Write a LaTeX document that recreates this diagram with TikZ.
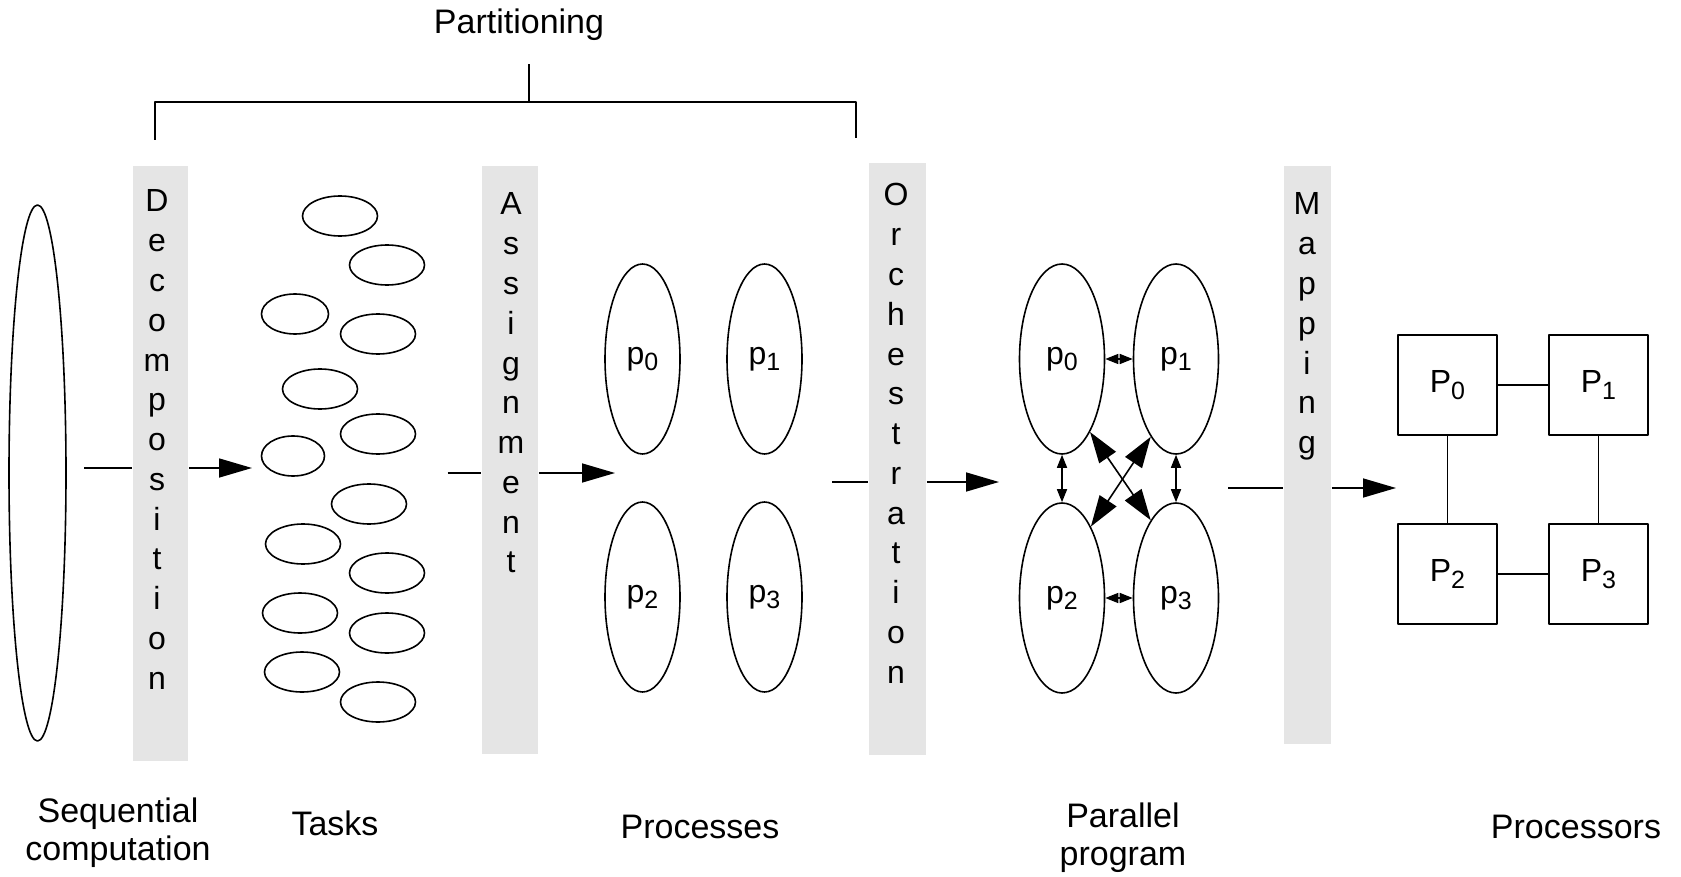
\documentclass[tikz,border=0pt]{standalone}
\usepackage{fontspec}
\setmainfont{Liberation Sans}
\usetikzlibrary{shapes.geometric,arrows.meta}
\definecolor{bandgray}{RGB}{229,229,229}
\newcommand\lowsub[1]{\raisebox{-3.3pt}{\fontsize{12.5}{14}\selectfont #1}}

\begin{document}
\begin{tikzpicture}[x=0.5pt, y=-0.5pt, line width=0.8pt, line join=round,
	font=\fontsize{16}{19}\selectfont,
	band/.style={fill=bandgray, inner sep=0pt},
	letter/.style={anchor=base, inner sep=0pt, font=\fontsize{16}{18}\selectfont},
	task/.style={draw, ellipse, inner sep=0pt, minimum height=20pt},
	proc/.style={draw, ellipse, inner sep=0pt, minimum width=37.5pt, minimum height=95pt},
	cpu/.style={draw, rectangle, inner sep=0pt, minimum width=49.5pt, minimum height=50pt},
	caption/.style={align=center, anchor=base, font=\fontsize{17}{19}\selectfont},
	bigarrow/.style={-{Triangle[length=16.5pt, width=9.5pt]}},
	both/.style={{Triangle[length=6.5pt, width=5pt]}-{Triangle[length=6.5pt, width=5pt]}},
	bothbig/.style={{Triangle[length=15.5pt, width=10pt]}-{Triangle[length=15.5pt, width=10pt]}}]
	\useasboundingbox (0,0) rectangle (1681,877);
	% partitioning bracket
	\node[anchor=base, font=\fontsize{17}{20}\selectfont] (part) at (519,34) {Partitioning};
	\draw (155,140) |- (856,102) -- (856,138);
	\draw (529,102) -- (529,64);
	% bands
	\node[band, minimum width=27.5pt, minimum height=297.5pt] (dec) at (160.5,463.5) {};
	\node[band, minimum width=28pt, minimum height=294pt] (asg) at (510,460) {};
	\node[band, minimum width=28.5pt, minimum height=296pt] (orc) at (897.5,459) {};
	\node[band, minimum width=23.5pt, minimum height=289pt] (map) at (1307.5,455) {};
	\foreach \ch [count=\i from 0] in {D,e,c,o,m,p,o,s,i,t,i,o,n}
		\node[letter] (dec-\i) at (157,{212+39.75*\i}) {\ch};
	\foreach \ch [count=\i from 0] in {A,s,s,i,g,n,m,e,n,t}
		\node[letter] (asg-\i) at (511,{215+39.75*\i}) {\ch};
	\foreach \ch [count=\i from 0] in {O,r,c,h,e,s,t,r,a,t,i,o,n}
		\node[letter] (orc-\i) at (896,{206+39.75*\i}) {\ch};
	\foreach \ch [count=\i from 0] in {M,a,p,p,i,n,g}
		\node[letter] (map-\i) at (1307,{215+39.75*\i}) {\ch};
	% sequential computation
	\node[draw, ellipse, inner sep=0pt, minimum width=28.5pt, minimum height=268pt] (seq) at (37.5,473) {};
	% tasks
	\foreach \cx/\cy/\w [count=\i] in {340/216/75, 387/265/75, 295/314/67, 378/334/75, 320/389/75, 378/434/75, 293/456/63,
		369/504/75, 303/544/75, 387/573/75, 300/613/75, 387/633/75, 302/672/75, 378/702/75}
		\node[task, minimum width=\w*0.5pt] (t\i) at (\cx,\cy) {};
	% processes
	\node[proc] (pr0) at (642.5,359) {p\lowsub{0}};
	\node[proc] (pr1) at (764.5,359) {p\lowsub{1}};
	\node[proc] (pr2) at (642.5,597) {p\lowsub{2}};
	\node[proc] (pr3) at (764.5,597) {p\lowsub{3}};
	% parallel program
	\node[proc, minimum width=42.5pt] (pp0) at (1062,359) {p\lowsub{0}};
	\node[proc, minimum width=42.5pt] (pp1) at (1176,359) {p\lowsub{1}};
	\node[proc, minimum width=42.5pt] (pp2) at (1062,598) {p\lowsub{2}};
	\node[proc, minimum width=42.5pt] (pp3) at (1176,598) {p\lowsub{3}};
	\draw[both] (pp0.east) -- (pp1.west);
	\draw[both] (pp2.east) -- (pp3.west);
	\draw[both] (pp0.south) -- (pp2.north);
	\draw[both] (pp1.south) -- (pp3.north);
	\draw[bothbig] (pp0.-69) -- (pp3.108);
	\draw[bothbig] (pp2.68) -- (pp1.-108);
	% processors
	\node[cpu] (cpu0) at (1447.5,385) {P\lowsub{0}};
	\node[cpu] (cpu1) at (1598.5,385) {P\lowsub{1}};
	\node[cpu] (cpu2) at (1447.5,574) {P\lowsub{2}};
	\node[cpu] (cpu3) at (1598.5,574) {P\lowsub{3}};
	\draw (cpu0) -- (cpu1) (cpu2) -- (cpu3) (cpu0) -- (cpu2) (cpu1) -- (cpu3);
	% stage arrows
	\coordinate (a1) at (84,468); \coordinate (b1) at (252,468);
	\coordinate (a2) at (447.5,473); \coordinate (b2) at (615,473);
	\coordinate (a3) at (832,482); \coordinate (b3) at (999,482);
	\coordinate (a4) at (1228,488); \coordinate (b4) at (1396,488);
	\draw (a1) -- (a1 -| dec.west);
	\draw[bigarrow] (a1 -| dec.east) -- (b1);
	\draw (a2) -- (a2 -| asg.west);
	\draw[bigarrow] (a2 -| asg.east) -- (b2);
	\draw (a3) -- (a3 -| orc.west);
	\draw[bigarrow] (a3 -| orc.east) -- (b3);
	\draw (a4) -- (a4 -| map.west);
	\draw[bigarrow] (a4 -| map.east) -- (b4);
	% captions
	\node[caption] (seqlab) at (118,860) {Sequential\\computation};
	\node[caption] (tasklab) at (335,835) {Tasks};
	\node[caption] (proclab) at (700,838) {Processes};
	\node[caption] (parlab) at (1123,865) {Parallel\\program};
	\node[caption] (cpulab) at (1576,838) {Processors};
\end{tikzpicture}
\end{document}
